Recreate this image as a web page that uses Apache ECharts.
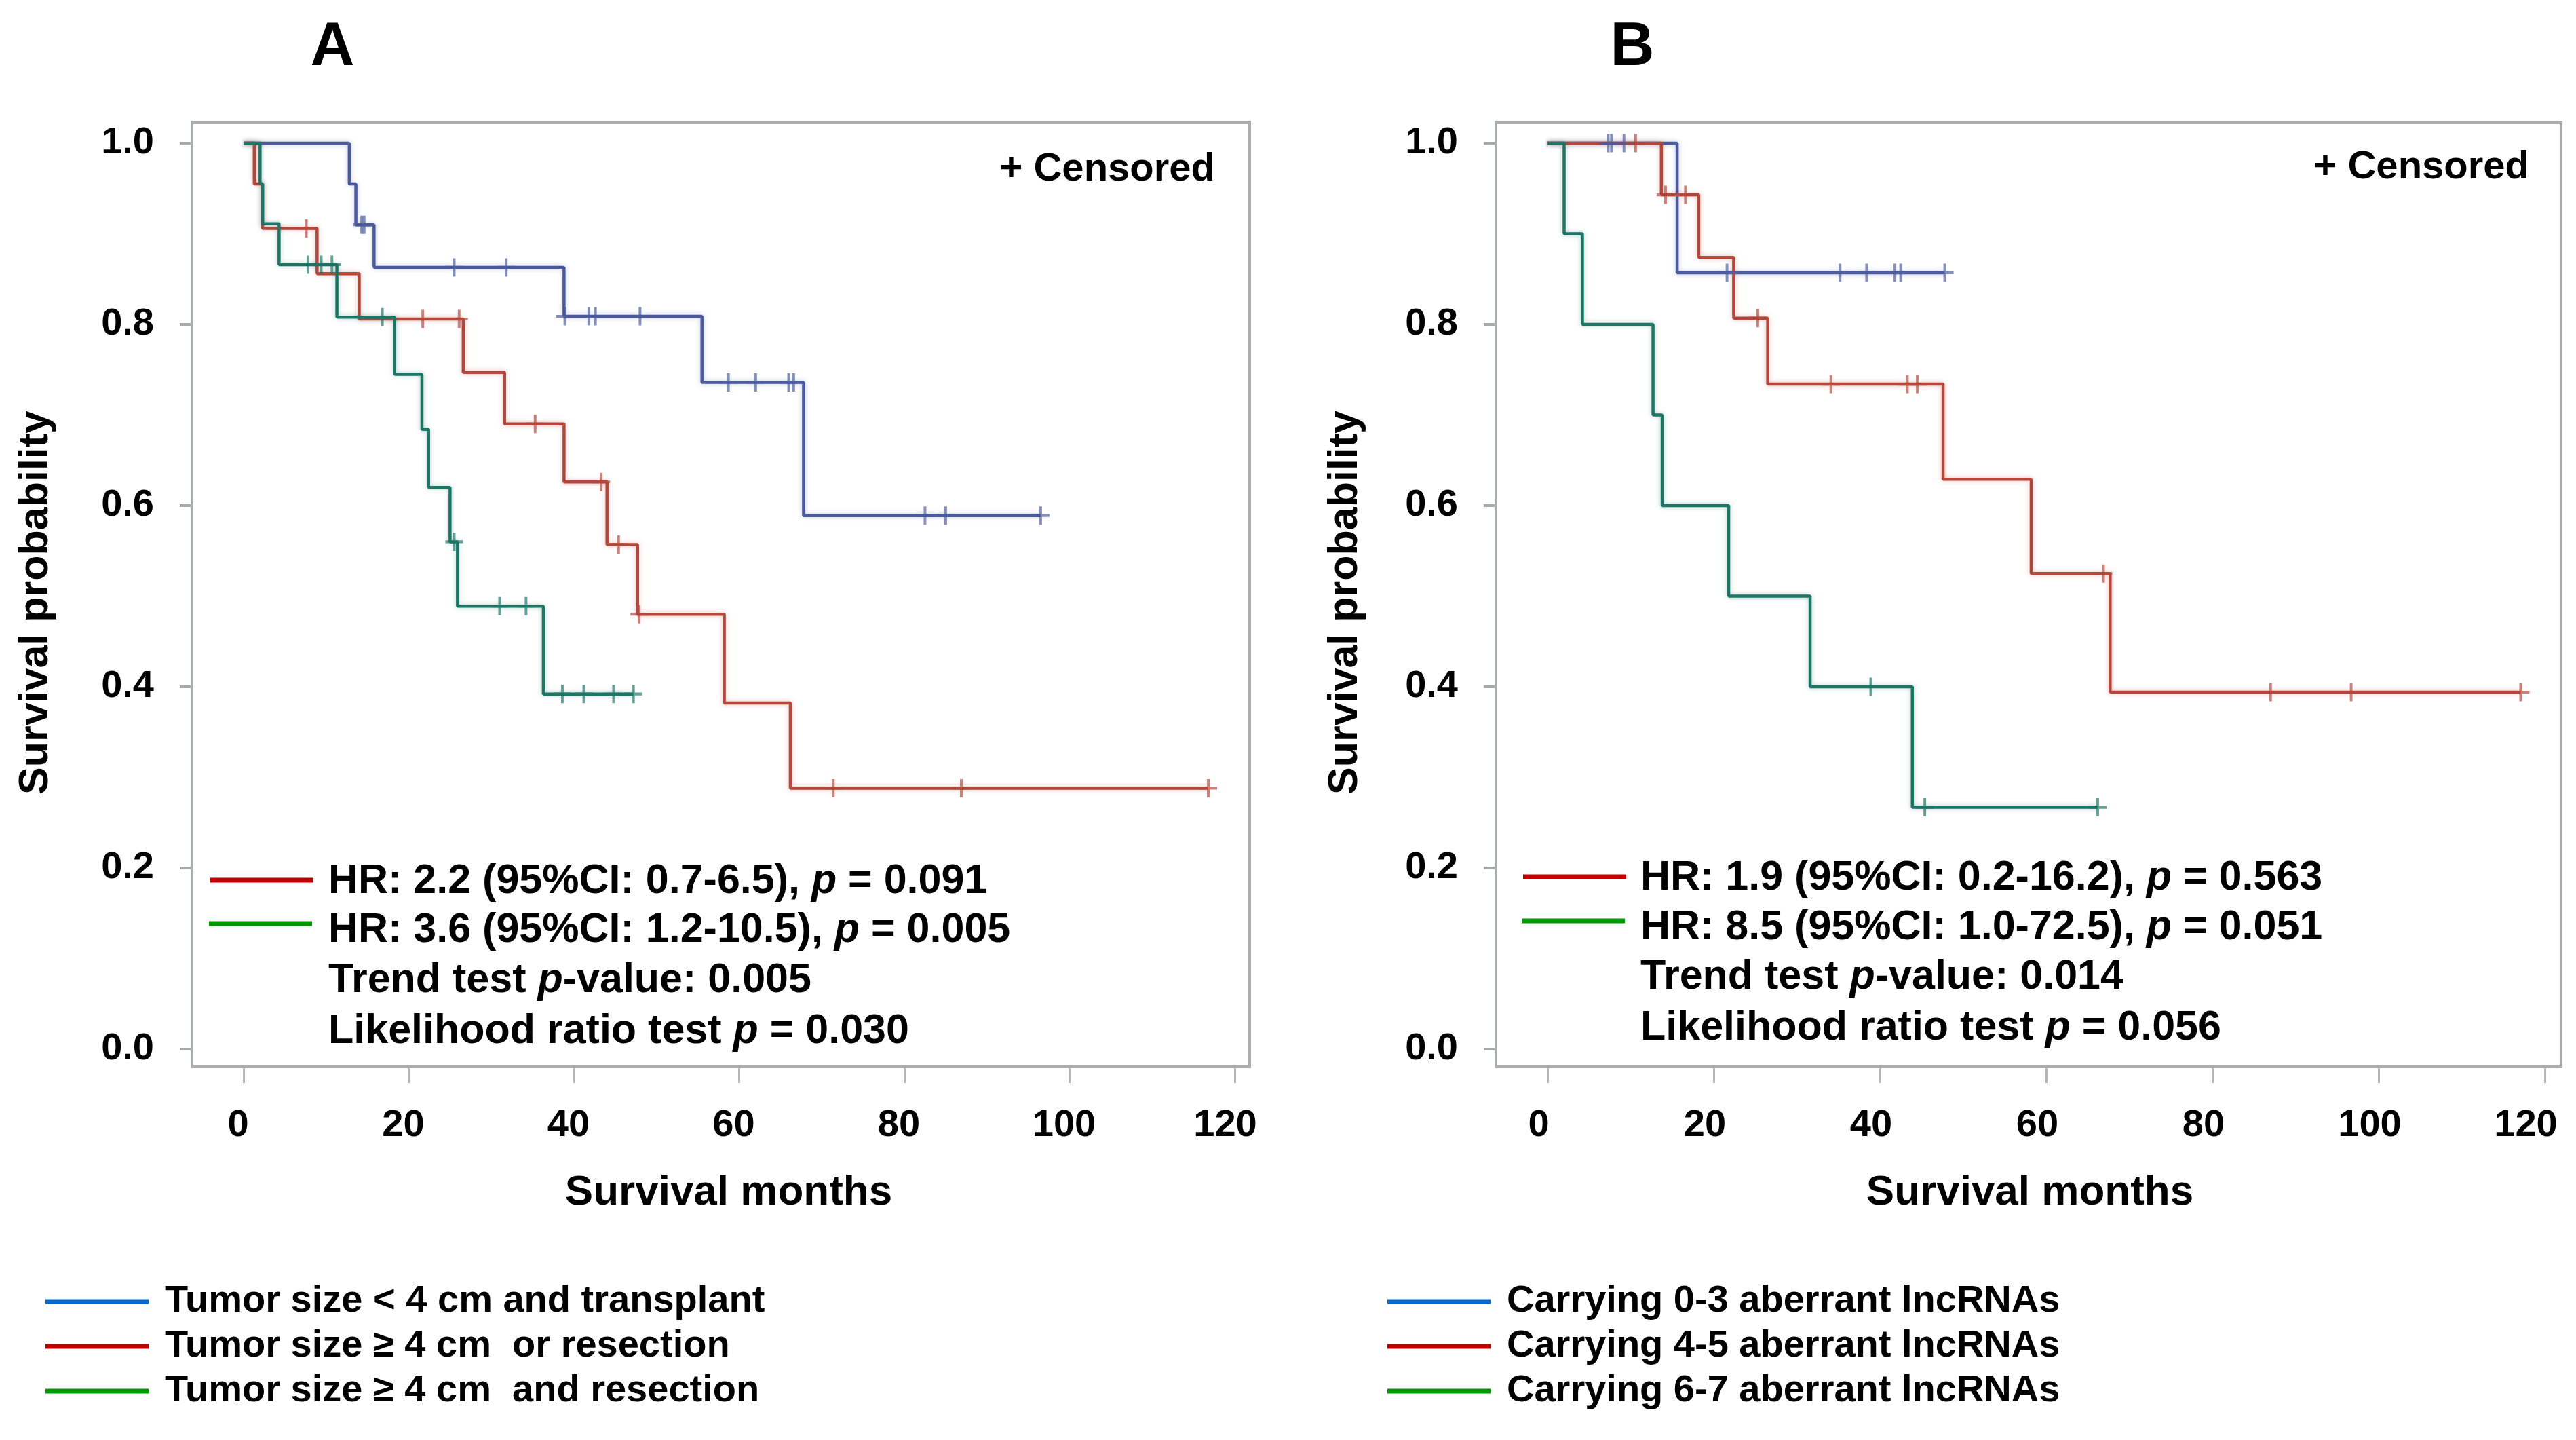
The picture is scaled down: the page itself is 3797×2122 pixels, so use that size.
<!DOCTYPE html>
<html>
<head>
<meta charset="utf-8">
<script src="https://cdn.jsdelivr.net/npm/echarts@6/dist/echarts.min.js"></script>
<style>
html,body{margin:0;padding:0;background:#fff;}
#chart{width:3797px;height:2122px;}
</style>
</head>
<body>
<div id="chart"></div>
<script>
// ---------------- data ----------------
const X_TICKS = [0, 20, 40, 60, 80, 100, 120];
const Y_TICKS = [0, 0.2, 0.4, 0.6, 0.8, 1.0];

// Panel A
const A_BLUE_T = [0, 12.8, 13.6, 15.8, 38.8, 55.5, 67.8, 96.5];
const A_BLUE_S = [1, 0.955, 0.910, 0.863, 0.809, 0.736, 0.589, 0.589];
const A_BLUE_C = [14.3, 14.6, 25.5, 31.8, 38.9, 41.8, 42.6, 48.0, 58.7, 62.0, 66.0, 66.6, 82.5, 85.0, 96.5];

const A_RED_T = [0, 1.3, 2.3, 8.9, 14.0, 26.6, 31.6, 38.8, 44.0, 47.7, 58.2, 66.2, 116.8];
const A_RED_S = [1, 0.955, 0.906, 0.856, 0.806, 0.747, 0.690, 0.626, 0.557, 0.480, 0.382, 0.288, 0.288];
const A_RED_C = [7.6, 21.7, 26.1, 35.3, 43.3, 45.4, 47.9, 71.4, 86.9, 116.8];

const A_TEAL_T = [0, 2.0, 2.3, 4.3, 11.3, 18.3, 21.6, 22.4, 25.0, 25.9, 36.3, 47.2];
const A_TEAL_S = [1, 0.955, 0.911, 0.866, 0.808, 0.745, 0.684, 0.620, 0.560, 0.489, 0.392, 0.392];
const A_TEAL_C = [7.8, 9.4, 10.7, 16.8, 25.5, 31.0, 34.2, 38.6, 41.2, 44.8, 47.2];

// Panel B
const B_BLUE_T = [0, 15.6, 47.8];
const B_BLUE_S = [1, 0.857, 0.857];
const B_BLUE_C = [7.3, 7.7, 9.2, 21.6, 35.2, 38.4, 41.8, 42.5, 47.8];

const B_RED_T = [0, 13.7, 18.2, 22.4, 26.5, 47.6, 58.2, 67.7, 117.1];
const B_RED_S = [1, 0.943, 0.874, 0.807, 0.734, 0.629, 0.525, 0.394, 0.394];
const B_RED_C = [10.6, 14.2, 16.6, 25.3, 34.1, 43.3, 44.5, 66.9, 87.0, 96.7, 117.1];

const B_TEAL_T = [0, 2.0, 4.2, 12.7, 13.8, 21.8, 31.6, 43.9, 66.2];
const B_TEAL_S = [1, 0.9, 0.8, 0.7, 0.6, 0.5, 0.4, 0.267, 0.267];
const B_TEAL_C = [38.9, 45.4, 66.2];

// texts
const PANEL_LABELS = ['A', 'B'];
const CENSORED_LABEL = '+ Censored';
const X_TITLE = 'Survival months';
const Y_TITLE = 'Survival probability';
const A_HR = [['HR: 2.2 (95%CI: 0.7-6.5), ', ' = 0.091'], ['HR: 3.6 (95%CI: 1.2-10.5), ', ' = 0.005']];
const B_HR = [['HR: 1.9 (95%CI: 0.2-16.2), ', ' = 0.563'], ['HR: 8.5 (95%CI: 1.0-72.5), ', ' = 0.051']];
const A_TREND = '0.005', A_LR = '0.030';
const B_TREND = '0.014', B_LR = '0.056';
const A_GROUPS = ['Tumor size < 4 cm and transplant', 'Tumor size \u2265 4 cm  or resection', 'Tumor size \u2265 4 cm  and resection'];
const B_GROUPS = ['Carrying 0-3 aberrant lncRNAs', 'Carrying 4-5 aberrant lncRNAs', 'Carrying 6-7 aberrant lncRNAs'];

// ---------------- styling ----------------
const F = '"Liberation Sans", Arial, Helvetica, sans-serif';
const C_BLUE = '#4b5b9d', C_RED = '#b3473b', C_TEAL = '#1d7566';
const L_BLUE = '#0a68c8', L_RED = '#c00000', L_GREEN = '#009a00';
const W = 3797, H = 2122;

function steps(T, S) { return T.map((t, i) => [t, S[i]]); }
function survAt(T, S, t) { let v = S[0]; for (let i = 0; i < T.length; i++) { if (T[i] <= t + 1e-9) v = S[i]; } return v; }
function cens(T, S, C) { return C.map(t => [t, survAt(T, S, t)]); }
function rgba(hex, a) { const n = parseInt(hex.slice(1), 16); return `rgba(${n>>16},${(n>>8)&255},${n&255},${a})`; }

const PLUS = 'path://M11,0H15V11H26V15H15V26H11V15H0V11H11Z';

function lineSeries(name, T, S, color, xi) {
  return {
    name, type: 'line', xAxisIndex: xi, yAxisIndex: xi, step: 'end', symbol: 'none', clip: false,
    data: steps(T, S),
    lineStyle: { color, width: 4.5, shadowColor: rgba(color, 0.35), shadowBlur: 7 },
    z: 3
  };
}
function censSeries(name, T, S, C, color, xi) {
  return {
    name: name + ' censored', type: 'scatter', xAxisIndex: xi, yAxisIndex: xi, clip: false,
    symbol: PLUS, symbolSize: [26, 27], data: cens(T, S, C),
    itemStyle: { color: rgba(color, 0.85) }, z: 4
  };
}

function boxGrid(left, right) {
  return { left, right, top: 180, bottom: H - 1572, show: true, borderColor: '#a9adb0', borderWidth: 4, backgroundColor: '#fff', containLabel: false };
}
function dataGrid(left, right) {
  return { left, right, top: 211, bottom: H - 1546, show: false, containLabel: false };
}
function hiddenX(gi) { return { gridIndex: gi, type: 'value', show: false, min: 0, max: 1 }; }
function hiddenY(gi) { return { gridIndex: gi, type: 'value', show: false, min: 0, max: 1 }; }
const LBL = { fontSize: 56, fontWeight: 'bold', fontFamily: F, color: '#000' };
function dataX(gi, offset, shift, lastShift) {
  return {
    gridIndex: gi, type: 'value', position: 'bottom', min: X_TICKS[0], max: X_TICKS[X_TICKS.length - 1], interval: X_TICKS[1] - X_TICKS[0],
    offset, axisLine: { show: false, onZero: false }, splitLine: { show: false },
    axisTick: { show: true, inside: false, length: 24, lineStyle: { color: '#b5b5b5', width: 3 } },
    axisLabel: Object.assign({
      margin: 59,
      formatter: v => (v === X_TICKS[X_TICKS.length - 1] ? '{e|' + v + '}' : '{s|' + v + '}'),
      rich: {
        s: Object.assign({}, LBL, { padding: [0, 2 * shift, 0, 0] }),
        e: Object.assign({}, LBL, { padding: [0, 2 * lastShift, 0, 0] })
      }
    }, LBL)
  };
}
function dataY(gi, offset) {
  return {
    gridIndex: gi, type: 'value', position: 'left', min: Y_TICKS[0], max: Y_TICKS[Y_TICKS.length - 1], interval: Y_TICKS[1] - Y_TICKS[0],
    offset, axisLine: { show: false, onZero: false }, splitLine: { show: false },
    axisTick: { show: true, inside: false, length: 18, lineStyle: { color: '#a9a9a9', width: 4 } },
    axisLabel: Object.assign({ margin: 56, formatter: v => v.toFixed(1) }, LBL)
  };
}

function txt(x, y, text, size, opts) {
  opts = opts || {};
  return {
    type: 'text', x, y, rotation: opts.rotation || 0, z: 10,
    style: { text, fontSize: size, fontWeight: opts.weight || 'bold', fontFamily: F, fill: '#000',
             align: opts.align || 'left', verticalAlign: opts.valign || 'middle' }
  };
}
function richTxt(x, y, pre, post, size) {
  const base = { fontSize: size, fontWeight: 'bold', fontFamily: F, fill: '#000' };
  return {
    type: 'text', x, y, z: 10,
    style: {
      text: '{b|' + pre + '}{i|p}{b|' + post + '}',
      rich: { b: Object.assign({}, base), i: Object.assign({}, base, { fontStyle: 'italic' }) },
      align: 'left', verticalAlign: 'middle', fontSize: size, fontFamily: F
    }
  };
}
function seg(x1, x2, y, color, w) {
  return { type: 'line', z: 10, shape: { x1, y1: y, x2, y2: y }, style: { stroke: color, lineWidth: w || 7 } };
}

function panelGraphics(p) {
  const g = [];
  g.push(txt(p.labelX, 71, p.label, 90, { align: 'center' }));
  g.push(txt(p.censX, p.censY, CENSORED_LABEL, 58, { align: 'right' }));
  g.push(txt(p.yTitleX, 888, Y_TITLE, 61, { align: 'center', rotation: Math.PI / 2 }));
  g.push(txt(p.xTitleX, 1758, X_TITLE, 62, { align: 'center' }));
  // HR block
  g.push(seg(p.hrLineX, p.hrLineX + 152, p.hrRows[0] - 2, L_RED));
  g.push(seg(p.hrLineX - 2, p.hrLineX + 150, p.hrRows[1] - 10, L_GREEN));
  g.push(richTxt(p.hrTextX, p.hrRows[0], p.hr[0][0], p.hr[0][1], 61));
  g.push(richTxt(p.hrTextX, p.hrRows[1], p.hr[1][0], p.hr[1][1], 61));
  g.push(richTxt(p.hrTextX, p.hrRows[2], 'Trend test ', '-value: ' + p.trend, 61));
  g.push(richTxt(p.hrTextX, p.hrRows[3], 'Likelihood ratio test ', ' = ' + p.lr, 61));
  // group legend
  const cols = [L_BLUE, L_RED, L_GREEN];
  const rows = [1918, 1984, 2050];
  p.groups.forEach((name, i) => {
    g.push(seg(p.legLineX, p.legLineX + 152, rows[i], cols[i]));
    g.push(txt(p.legTextX, rows[i], name, 56));
  });
  return g;
}

const graphics = [].concat(
  panelGraphics({ label: PANEL_LABELS[0], labelX: 490, censX: 1791, censY: 250, yTitleX: 53, xTitleX: 1074,
    hrLineX: 310, hrTextX: 484, hrRows: [1299, 1371, 1445, 1520], hr: A_HR, trend: A_TREND, lr: A_LR,
    groups: A_GROUPS, legLineX: 67, legTextX: 243 }),
  panelGraphics({ label: PANEL_LABELS[1], labelX: 2406, censX: 3728, censY: 247, yTitleX: 1983, xTitleX: 2992,
    hrLineX: 2245, hrTextX: 2418, hrRows: [1294, 1367, 1440, 1515], hr: B_HR, trend: B_TREND, lr: B_LR,
    groups: B_GROUPS, legLineX: 2045, legTextX: 2221 })
);

const option = {
  backgroundColor: '#fff',
  animation: false,
  grid: [
    boxGrid(283, W - 1842),
    dataGrid(359, W - 1820),
    boxGrid(2205, W - 3775),
    dataGrid(2281, W - 3751)
  ],
  xAxis: [hiddenX(0), dataX(1, 26, 8, 14), hiddenX(2), dataX(3, 26, 13, 28)],
  yAxis: [hiddenY(0), dataY(1, 76), hiddenY(2), dataY(3, 76)],
  series: [
    lineSeries('A: Tumor size < 4 cm and transplant', A_BLUE_T, A_BLUE_S, C_BLUE, 1),
    lineSeries('A: Tumor size >= 4 cm or resection', A_RED_T, A_RED_S, C_RED, 1),
    lineSeries('A: Tumor size >= 4 cm and resection', A_TEAL_T, A_TEAL_S, C_TEAL, 1),
    censSeries('A blue', A_BLUE_T, A_BLUE_S, A_BLUE_C, C_BLUE, 1),
    censSeries('A red', A_RED_T, A_RED_S, A_RED_C, C_RED, 1),
    censSeries('A teal', A_TEAL_T, A_TEAL_S, A_TEAL_C, C_TEAL, 1),
    lineSeries('B: Carrying 0-3 aberrant lncRNAs', B_BLUE_T, B_BLUE_S, C_BLUE, 3),
    lineSeries('B: Carrying 4-5 aberrant lncRNAs', B_RED_T, B_RED_S, C_RED, 3),
    lineSeries('B: Carrying 6-7 aberrant lncRNAs', B_TEAL_T, B_TEAL_S, C_TEAL, 3),
    censSeries('B blue', B_BLUE_T, B_BLUE_S, B_BLUE_C, C_BLUE, 3),
    censSeries('B red', B_RED_T, B_RED_S, B_RED_C, C_RED, 3),
    censSeries('B teal', B_TEAL_T, B_TEAL_S, B_TEAL_C, C_TEAL, 3)
  ],
  graphic: graphics
};

const chart = echarts.init(document.getElementById('chart'), null, { renderer: 'canvas', width: W, height: H });
chart.setOption(option);
</script>
</body>
</html>
